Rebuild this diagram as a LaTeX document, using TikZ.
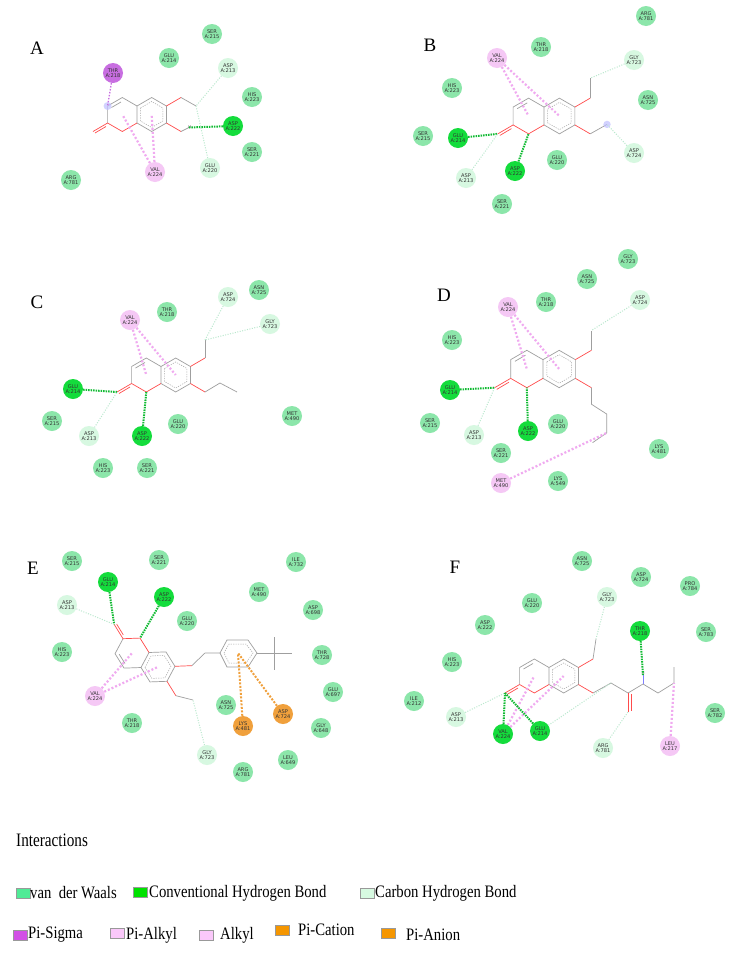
\documentclass[tikz,border=0pt]{standalone}
\usepackage{fontspec}
\setmainfont{Liberation Serif}
\setsansfont{DejaVu Sans}
\definecolor{vdwc}{RGB}{140,230,170}
\definecolor{hbc}{RGB}{20,220,60}
\definecolor{chc}{RGB}{215,248,225}
\definecolor{psc}{RGB}{200,110,225}
\definecolor{pac}{RGB}{245,200,245}
\definecolor{orc}{RGB}{240,160,60}
\definecolor{chl}{RGB}{185,232,205}
\definecolor{pal}{RGB}{240,170,240}
\definecolor{Lvdw}{RGB}{80,235,150}
\definecolor{Lhb}{RGB}{0,225,0}
\definecolor{Lch}{RGB}{215,250,225}
\definecolor{Lps}{RGB}{210,80,230}
\definecolor{Lpa}{RGB}{250,200,250}
\definecolor{Lor}{RGB}{245,150,0}
\tikzset{
 res/.style={circle,minimum size=20pt,inner sep=0pt,align=center,font=\fontsize{5.1}{5.4}\selectfont\sffamily,text=black!80},
 vdw/.style={res,fill=vdwc}, hb/.style={res,fill=hbc}, ch/.style={res,fill=chc},
 ps/.style={res,fill=psc}, pa/.style={res,fill=pac}, po/.style={res,fill=orc},
 bond/.style={draw=gray!75,line width=0.7pt},
 obond/.style={draw=red!70,line width=0.7pt},
 arom/.style={draw=gray!70,line width=0.5pt,dash pattern=on 1.2pt off 1.2pt},
 lhb/.style={draw=hbc!85!black,line width=2pt,dash pattern=on 1.5pt off 1pt},
 lch/.style={draw=chl,line width=1pt,dash pattern=on 1pt off 1.5pt},
 lpa/.style={draw=pal,line width=2.2pt,dash pattern=on 2pt off 2pt},
 lps/.style={draw=psc,line width=1.3pt,dash pattern=on 1.5pt off 1.5pt},
 lor/.style={draw=orc,line width=2pt,dash pattern=on 2pt off 1.5pt},
 plabel/.style={font=\fontsize{19}{20}\selectfont},
 legtxt/.style={anchor=west,font=\fontsize{17.5}{19}\selectfont,inner sep=0pt},
 sw/.style={draw=gray!80,line width=0.8pt,minimum width=14pt,minimum height=10pt,inner sep=0pt},
 hlab/.style={font=\fontsize{4}{4}\selectfont\sffamily,inner sep=0pt,text=gray!80!black}
}
\newcommand\lsq[1]{\scalebox{0.84}[1]{#1}}
% coumarin core in local pixel coordinates; #1 = prefix
\newcommand\coumarin[1]{%
 \coordinate (#1-b1) at (0,-8.5); \coordinate (#1-b2) at (14.7,-17);
 \coordinate (#1-b3) at (29.4,-8.5); \coordinate (#1-b4) at (29.4,8.5);
 \coordinate (#1-b5) at (14.7,17); \coordinate (#1-b6) at (0,8.5);
 \coordinate (#1-c4) at (-14.7,-17); \coordinate (#1-c3) at (-29.4,-8.5);
 \coordinate (#1-c2) at (-29.4,8.5); \coordinate (#1-o1) at (-14.7,17);
 \coordinate (#1-co) at (-44,17); \coordinate (#1-o6) at (44,-17);
 \coordinate (#1-o7) at (44,17);
 \coordinate (#1-pc) at (-14.7,0); \coordinate (#1-bc) at (14.7,0);
 \draw[bond] (#1-b1)--(#1-b2)--(#1-b3)--(#1-b4)--(#1-b5)--(#1-b6)--cycle;
 \draw[arom] (3.5,-6.5)--(14.7,-13)--(25.9,-6.5)--(25.9,6.5)--(14.7,13)--(3.5,6.5)--cycle;
 \draw[bond] (#1-b1)--(#1-c4)--(#1-c3)--(#1-c2);
 \draw[bond] (-16,-12.5)--(-25.5,-7);
 \draw[obond] (#1-c2)--(#1-o1)--(#1-b6);
 \draw[obond] (#1-c2)--(#1-co);
 \draw[obond] (-31,12)--(-42,18.5);
 \draw[obond] (#1-b3)--(#1-o6);
 \draw[obond] (#1-b4)--(#1-o7);
}
\begin{document}
\begin{tikzpicture}[x=1pt,y=-1pt]
\path[use as bounding box,fill=white] (0,0) rectangle (742,956);

%%%%% Panel A
\node[plabel] at (37,48) {A};
\begin{scope}[shift={(137,114.5)}]
 \coumarin{a}
 \coordinate (a-m6) at (59,-8.5); \coordinate (a-h) at (52,13);
 \draw[bond] (a-o6)--(a-m6); \draw[bond] (a-o7)--(a-h);
 \node[hlab] at (53,12.5) {H};
 \fill[blue!25,opacity=0.7] (a-c3) circle (4);
\end{scope}
\node[ps]  (aTHR218) at (113,73) {THR\\A:218};
\node[vdw] (aGLU214) at (169,58) {GLU\\A:214};
\node[vdw] (aSER215) at (212,34) {SER\\A:215};
\node[ch]  (aASP213) at (228,68) {ASP\\A:213};
\node[vdw] (aHIS223) at (252,97) {HIS\\A:223};
\node[hb]  (aASP222) at (233,126) {ASP\\A:222};
\node[vdw] (aSER221) at (252,152) {SER\\A:221};
\node[ch]  (aGLU220) at (210,168) {GLU\\A:220};
\node[pa]  (aVAL224) at (155,172) {VAL\\A:224};
\node[vdw] (aARG781) at (71,180) {ARG\\A:781};
\draw[lps] (aTHR218)--(a-c3);
\draw[lpa] (aVAL224)--(a-pc); \draw[lpa] (aVAL224)--(a-bc);
\draw[lhb] (aASP222)--(a-h);
\draw[lch] (aASP213)--(a-m6); \draw[lch] (aGLU220)--(a-m6);

%%%%% Panel B
\node[plabel] at (430,45) {B};
\begin{scope}[shift={(544,116)},scale=1.05]
 \coumarin{b}
 \coordinate (b-m6) at (44,-36); \coordinate (b-m7) at (60,8);
 \draw[bond] (b-o6)--(b-m6); \draw[bond] (b-o7)--(b-m7);
 \fill[blue!25,opacity=0.7] (b-m7) circle (3.5);
\end{scope}
\node[vdw] (bARG781) at (646,16) {ARG\\A:781};
\node[vdw] (bTHR218) at (541,47) {THR\\A:218};
\node[pa]  (bVAL224) at (497,58) {VAL\\A:224};
\node[ch]  (bGLY723) at (634,60) {GLY\\A:723};
\node[vdw] (bHIS223) at (452,88) {HIS\\A:223};
\node[vdw] (bASN725) at (648,100) {ASN\\A:725};
\node[vdw] (bSER215) at (423,136) {SER\\A:215};
\node[hb]  (bGLU214) at (458,138) {GLU\\A:214};
\node[ch]  (bASP724) at (634,153) {ASP\\A:724};
\node[vdw] (bGLU220) at (557,160) {GLU\\A:220};
\node[ch]  (bASP213) at (466,178) {ASP\\A:213};
\node[hb]  (bASP222) at (515,171) {ASP\\A:222};
\node[vdw] (bSER221) at (502,204) {SER\\A:221};
\draw[lpa] (bVAL224)--(b-pc); \draw[lpa] (bVAL224)--(b-bc);
\draw[lhb] (bGLU214)--(b-co); \draw[lhb] (bASP222)--(b-o1);
\draw[lch] (bASP213)--(b-co);
\draw[lch] (bGLY723)--(b-m6); \draw[lch] (bASP724)--(b-m7);

%%%%% Panel C
\node[plabel] at (37,302) {C};
\begin{scope}[shift={(161,375)}]
 \coumarin{c}
 \coordinate (c-m6) at (44,-35);
 \draw[bond] (c-o6)--(c-m6); \draw[bond] (c-o7)--(59,8)--(76,17);
\end{scope}
\node[pa]  (cVAL224) at (130,320) {VAL\\A:224};
\node[vdw] (cTHR218) at (167,312) {THR\\A:218};
\node[ch]  (cASP724) at (228,297) {ASP\\A:724};
\node[vdw] (cASN725) at (259,290) {ASN\\A:725};
\node[ch]  (cGLY723) at (270,324) {GLY\\A:723};
\node[hb]  (cGLU214) at (73,389) {GLU\\A:214};
\node[vdw] (cSER215) at (52,421) {SER\\A:215};
\node[ch]  (cASP213) at (89,436) {ASP\\A:213};
\node[hb]  (cASP222) at (142,436) {ASP\\A:222};
\node[vdw] (cGLU220) at (178,424) {GLU\\A:220};
\node[vdw] (cMET490) at (292,416) {MET\\A:490};
\node[vdw] (cHIS223) at (103,468) {HIS\\A:223};
\node[vdw] (cSER221) at (147,468) {SER\\A:221};
\draw[lpa] (cVAL224)--(c-pc); \draw[lpa] (cVAL224)--(c-bc);
\draw[lhb] (cGLU214)--(c-co); \draw[lhb] (cASP222)--(c-o1);
\draw[lch] (cASP213)--(c-co);
\draw[lch] (cASP724)--(c-m6); \draw[lch] (cGLY723)--(c-m6);

%%%%% Panel D
\node[plabel] at (444,295) {D};
\begin{scope}[shift={(543,369)},scale=1.1]
 \coumarin{d}
 \coordinate (d-m6) at (44,-35); \coordinate (d-ch) at (58,58);
 \draw[bond] (d-o6)--(d-m6); \draw[bond] (d-o7)--(44,32)--(58,41)--(d-ch)--(45,67);
\end{scope}
\node[vdw] (dGLY723) at (628,259) {GLY\\A:723};
\node[vdw] (dASN725) at (587,279) {ASN\\A:725};
\node[vdw] (dTHR218) at (546,302) {THR\\A:218};
\node[pa]  (dVAL224) at (508,307) {VAL\\A:224};
\node[ch]  (dASP724) at (640,300) {ASP\\A:724};
\node[vdw] (dHIS223) at (452,340) {HIS\\A:223};
\node[hb]  (dGLU214) at (450,390) {GLU\\A:214};
\node[vdw] (dSER215) at (430,423) {SER\\A:215};
\node[ch]  (dASP213) at (474,435) {ASP\\A:213};
\node[vdw] (dSER221) at (501,453) {SER\\A:221};
\node[hb]  (dASP222) at (528,431) {ASP\\A:222};
\node[vdw] (dGLU220) at (558,424) {GLU\\A:220};
\node[vdw] (dLYS481) at (659,449) {LYS\\A:481};
\node[pa]  (dMET490) at (501,483) {MET\\A:490};
\node[vdw] (dLYS549) at (558,481) {LYS\\A:549};
\draw[lpa] (dVAL224)--(d-pc); \draw[lpa] (dVAL224)--(d-bc);
\draw[lhb] (dGLU214)--(d-co); \draw[lhb] (dASP222)--(d-o1);
\draw[lch] (dASP213)--(d-co);
\draw[lch] (dASP724)--(d-m6);
\draw[lpa] (dMET490)--(d-ch);

%%%%% Panel E
\node[plabel] at (33,568) {E};
\begin{scope}[shift={(145,660)},rotate=-28,yscale=-1]
 \coumarin{e}
\end{scope}
\coordinate (e-m6) at (193,700);
\coordinate (e-ph) at (238,653);
\draw[bond] (e-o6)--(e-m6);
\draw[bond] (e-o7)--(205,653)--(220,653);
\draw[bond] (220,653)--(227,640)--(248,640)--(257,653)--(248,667)--(227,667)--cycle;
\draw[arom] (224,653)--(229,644)--(246,644)--(253,653)--(246,663)--(229,663)--cycle;
\draw[bond] (257,653)--(292,653); \draw[bond] (274,637)--(274,670);
\node[vdw] (eSER215) at (72,561) {SER\\A:215};
\node[vdw] (eSER221) at (159,560) {SER\\A:221};
\node[vdw] (eILE732) at (296,562) {ILE\\A:732};
\node[hb]  (eGLU214) at (108,582) {GLU\\A:214};
\node[hb]  (eASP222) at (164,597) {ASP\\A:222};
\node[ch]  (eASP213) at (67,605) {ASP\\A:213};
\node[vdw] (eMET490) at (259,592) {MET\\A:490};
\node[vdw] (eASP698) at (313,610) {ASP\\A:698};
\node[vdw] (eGLU220) at (187,621) {GLU\\A:220};
\node[vdw] (eHIS223) at (62,652) {HIS\\A:223};
\node[vdw] (eTHR728) at (322,655) {THR\\A:728};
\node[pa]  (eVAL224) at (95,696) {VAL\\A:224};
\node[vdw] (eGLU697) at (333,692) {GLU\\A:697};
\node[vdw] (eASN725) at (226,705) {ASN\\A:725};
\node[po]  (eASP724) at (283,714) {ASP\\A:724};
\node[po]  (eLYS481) at (243,726) {LYS\\A:481};
\node[vdw] (eTHR218) at (132,723) {THR\\A:218};
\node[vdw] (eGLY648) at (321,728) {GLY\\A:648};
\node[ch]  (eGLY723) at (207,755) {GLY\\A:723};
\node[vdw] (eLEU649) at (288,760) {LEU\\A:649};
\node[vdw] (eARG781) at (243,772) {ARG\\A:781};
\draw[lhb] (eGLU214)--(e-co); \draw[lhb] (eASP222)--(e-o1);
\draw[lch] (eASP213)--(e-co);
\draw[lpa] (eVAL224)--(e-pc); \draw[lpa] (eVAL224)--(e-bc);
\draw[lch] (eGLY723)--(e-m6);
\draw[lor] (eLYS481)--(e-ph); \draw[lor] (eASP724)--(e-ph);

%%%%% Panel F
\node[plabel] at (455,567) {F};
\begin{scope}[shift={(549,676)}]
 \coumarin{f}
 \coordinate (f-m6) at (47,-37);
 \draw[bond] (f-o6)--(f-m6);
\end{scope}
\coordinate (f-ch2) at (611,683); \coordinate (f-am) at (628,712);
\coordinate (f-h) at (643,675); \coordinate (f-ch) at (674,683);
\draw[bond] (f-o7)--(f-ch2)--(628,693)--(643,684)--(658,693)--(f-ch)--(674,667);
\draw[obond] (628,693)--(f-am); \draw[obond] (631,694)--(631,711);
\draw[draw=blue!50,line width=0.7pt] (643,684)--(f-h);
\node[hlab] at (643,673) {H};
\node[vdw] (fASN725) at (582,561) {ASN\\A:725};
\node[vdw] (fASP724) at (641,577) {ASP\\A:724};
\node[vdw] (fPRO784) at (690,586) {PRO\\A:784};
\node[ch]  (fGLY723) at (607,597) {GLY\\A:723};
\node[vdw] (fGLU220) at (532,603) {GLU\\A:220};
\node[vdw] (fASP222) at (485,625) {ASP\\A:222};
\node[hb]  (fTHR218) at (640,631) {THR\\A:218};
\node[vdw] (fSER783) at (706,632) {SER\\A:783};
\node[vdw] (fHIS223) at (452,662) {HIS\\A:223};
\node[vdw] (fILE212) at (414,701) {ILE\\A:212};
\node[ch]  (fASP213) at (456,717) {ASP\\A:213};
\node[vdw] (fSER782) at (715,713) {SER\\A:782};
\node[hb]  (fVAL224) at (503,734) {VAL\\A:224};
\node[hb]  (fGLU214) at (540,731) {GLU\\A:214};
\node[ch]  (fARG781) at (603,748) {ARG\\A:781};
\node[pa]  (fLEU217) at (670,746) {LEU\\A:217};
\draw[lhb] (fTHR218)--(f-h);
\draw[lch] (fGLY723)--(f-m6);
\draw[lch] (fASP213)--(f-co);
\draw[lpa] (fVAL224)--(f-pc); \draw[lpa] (fVAL224)--(f-bc);
\draw[lhb] (fVAL224)--(f-co); \draw[lhb] (fGLU214)--(f-co);
\draw[lch] (fGLU214)--(f-ch2);
\draw[lch] (fARG781)--(f-am);
\draw[lpa] (fLEU217)--(f-ch);

%%%%% Legend
\node[anchor=west,inner sep=0pt,font=\fontsize{19}{20}\selectfont] (legtitle) at (16,840) {\scalebox{0.8}[1]{Interactions}};
\node[sw,fill=Lvdw] (s1) at (23,893) {}; \node[legtxt] (t1) at (30,893) {\lsq{van\ \ der Waals}};
\node[sw,fill=Lhb]  (s2) at (140,892) {}; \node[legtxt] (t2) at (149,893) {\lsq{Conventional Hydrogen Bond}};
\node[sw,fill=Lch]  (s3) at (367,893) {}; \node[legtxt] (t3) at (375,893) {\lsq{Carbon Hydrogen Bond}};
\node[sw,fill=Lps]  (s4) at (20,935) {}; \node[legtxt] (t4) at (28,935) {\lsq{Pi-Sigma}};
\node[sw,fill=Lpa]  (s5) at (117,933) {}; \node[legtxt] (t5) at (126,935) {\lsq{Pi-Alkyl}};
\node[sw,fill=Lpa]  (s6) at (206,935) {}; \node[legtxt] (t6) at (220,935) {\lsq{Alkyl}};
\node[sw,fill=Lor]  (s7) at (282,930) {}; \node[legtxt] (t7) at (298,930) {\lsq{Pi-Cation}};
\node[sw,fill=Lor]  (s8) at (388,933) {}; \node[legtxt] (t8) at (406,935) {\lsq{Pi-Anion}};
\end{tikzpicture}
\end{document}
